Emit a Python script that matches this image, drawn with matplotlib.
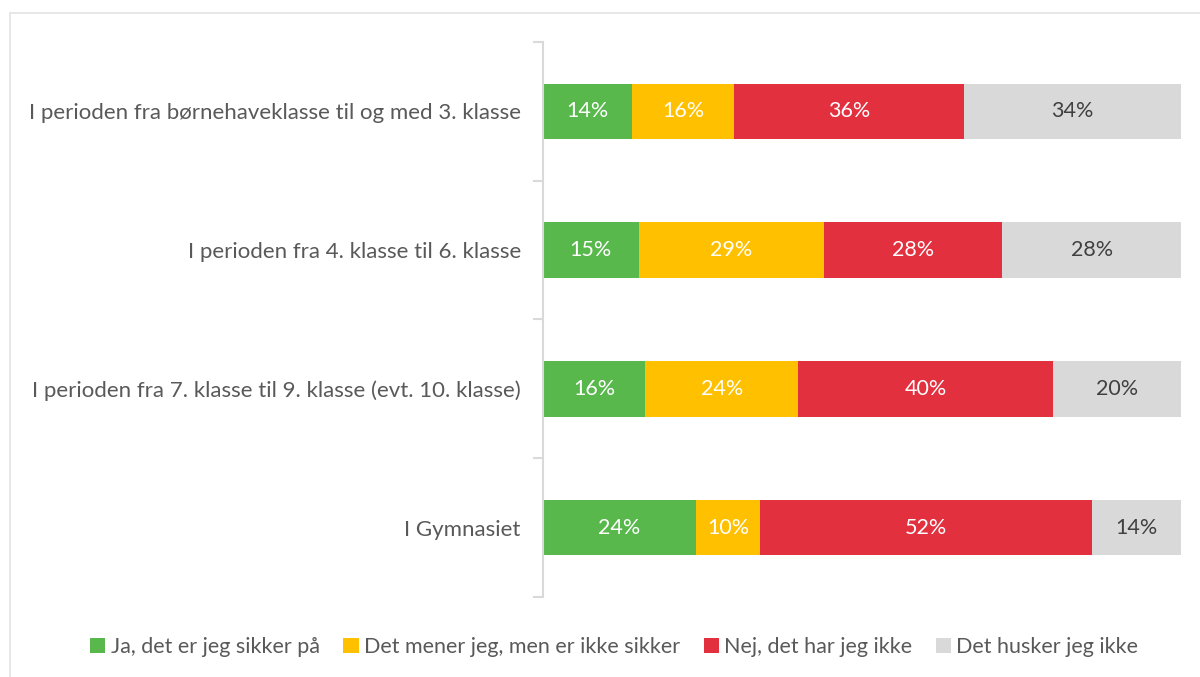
import matplotlib
matplotlib.use("Agg")
import matplotlib.pyplot as plt
from matplotlib.patches import Rectangle
import numpy as np

plt.rcParams['font.family'] = ['Lato', 'DejaVu Sans']

categories = [
    "I perioden fra børnehaveklasse til og med 3. klasse",
    "I perioden fra 4. klasse til 6. klasse",
    "I perioden fra 7. klasse til 9. klasse (evt. 10. klasse)",
    "I Gymnasiet",
]
series_names = [
    "Ja, det er jeg sikker på",
    "Det mener jeg, men er ikke sikker",
    "Nej, det har jeg ikke",
    "Det husker jeg ikke",
]
ja = [14, 15, 16, 24]
mener = [16, 29, 24, 10]
nej = [36, 28, 40, 52]
husker = [34, 28, 20, 14]

colors = ["#58b84c", "#ffc000", "#e3303f", "#d9d9d9"]
label_colors = ["white", "white", "white", "#404040"]

fig = plt.figure(figsize=(12, 6.77), dpi=100)
ax = fig.add_axes([0.4525, 0.1182, 0.5317, 0.8198])

# outer border
fig.patches.append(Rectangle((10/1200, -0.1), 1.2, 1 - 13/677 + 0.1, transform=fig.transFigure,
                             fill=False, edgecolor="#e3e3e3", linewidth=1.2))

y = np.arange(len(categories))
left = np.zeros(len(categories))
for vals, col, lc, name in zip([ja, mener, nej, husker], colors, label_colors, series_names):
    vals = np.array(vals, dtype=float)
    ax.barh(y, vals, left=left, height=0.4, color=col, label=name)
    for yi, v, l in zip(y, vals, left):
        ax.text(l + v / 2, yi, f"{int(v)}%", ha="center", va="center",
                color=lc, fontsize=15.5)
    left += vals

ax.set_xlim(0, 100)
ax.set_ylim(3.5, -0.5)
ax.set_xticks([])
ax.set_yticks(y)
ax.set_yticklabels(categories, fontsize=16, color="#595959")
ax.set_yticks(np.arange(-0.5, 4.0, 1.0), minor=True)
ax.tick_params(axis="y", which="major", length=0, pad=16)
ax.tick_params(axis="y", which="minor", length=7, color="#d9d9d9", width=1.5)
for s in ["top", "right", "bottom"]:
    ax.spines[s].set_visible(False)
ax.spines["left"].set_color("#d9d9d9")
ax.spines["left"].set_linewidth(1.5)

leg = fig.legend(loc="center", bbox_to_anchor=(0.512, 1 - 647/677), ncol=4, frameon=False,
                 fontsize=15.5, handlelength=0.7, handleheight=0.7, handletextpad=0.25,
                 columnspacing=1.1)
for t in leg.get_texts():
    t.set_color("#595959")

fig.savefig("out.png", dpi=100)
